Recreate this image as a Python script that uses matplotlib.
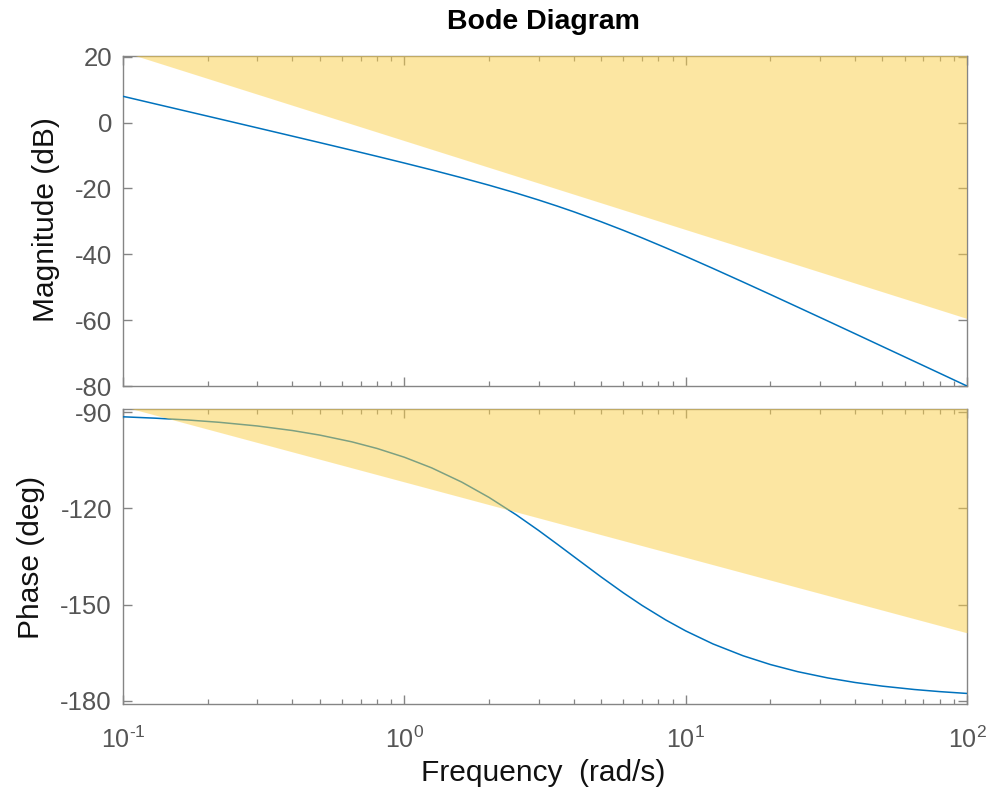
import matplotlib
matplotlib.use("Agg")
import matplotlib.pyplot as plt
import numpy as np

# ---- data ----
freq = [0.1, 0.13, 0.17, 0.22, 0.3, 0.4, 0.5, 0.65, 0.8, 1.0, 1.25, 1.6, 2.0, 2.5,
        3.0, 3.5, 4.0, 5.0, 6.0, 7.0, 8.5, 10.0, 12.5, 16.0, 20.0, 25.0, 32.0, 40.0,
        50.0, 65.0, 80.0, 100.0]
mag_db = [7.96, 5.67, 3.34, 1.10, -1.61, -4.13, -6.09, -8.41, -10.27, -12.30, -14.38,
          -16.77, -19.03, -21.43, -23.52, -25.39, -27.09, -30.11, -32.72, -35.03, -38.05,
          -40.64, -44.30, -48.43, -52.21, -56.03, -60.27, -64.12, -67.99, -72.53, -76.13,
          -80.01]
phase_deg = [-91.43, -91.86, -92.43, -93.15, -94.29, -95.71, -97.13, -99.23, -101.31,
             -104.04, -107.35, -111.80, -116.57, -122.01, -126.87, -131.19, -135.00,
             -141.34, -146.31, -150.26, -154.80, -158.20, -162.26, -165.96, -168.69,
             -170.91, -172.87, -174.29, -175.43, -176.48, -177.14, -177.71]

# constraint boundaries (shaded above)
bound_freq = [0.1, 100.0]
mag_bound = [21.4, -59.6]
phase_bound = [-88.2, -158.8]

mag_yticks = [20, 0, -20, -40, -60, -80]
phase_yticks = [-90, -120, -150, -180]
xticks = [0.1, 1, 10, 100]
xticklabels = [r"$10^{\text{-1}}$", r"$10^{0}$", r"$10^{1}$", r"$10^{2}$"]

# ---- style ----
plt.rcParams["font.family"] = ["Liberation Sans", "DejaVu Sans"]
plt.rcParams["mathtext.fontset"] = "custom"
plt.rcParams["mathtext.rm"] = "Liberation Sans"
plt.rcParams["mathtext.it"] = "Liberation Sans:italic"
plt.rcParams["mathtext.bf"] = "Liberation Sans:bold"
plt.rcParams["axes.unicode_minus"] = False

W, H = 1001, 789
fig = plt.figure(figsize=(W / 100, H / 100), dpi=100)
L, R = 123, 967
ax1 = fig.add_axes([L / W, 1 - 386 / H, (R - L) / W, (386 - 56) / H])
ax2 = fig.add_axes([L / W, 1 - 704 / H, (R - L) / W, (704 - 409) / H])

line_col = "#0072BD"
fill_col = (251 / 255, 207 / 255, 71 / 255)
spine_col = "#858585"
tick_lab_col = "#555555"

for ax in (ax1, ax2):
    ax.set_xscale("log")
    ax.set_xlim(0.1, 100)
    ax.set_axisbelow(True)
    for s in ax.spines.values():
        s.set_color(spine_col)
        s.set_linewidth(1.0)
        s.set_zorder(0.5)
    ax.tick_params(which="both", direction="in", top=True, right=True,
                   color=spine_col, labelcolor=tick_lab_col, labelsize=18.5)
    ax.tick_params(which="major", length=6.5, width=1.0)
    ax.tick_params(which="minor", length=3.8, width=0.9)
    ax.tick_params(axis="y", which="minor", left=False, right=False)
    ax.tick_params(axis="y", pad=8)

# magnitude
ax1.plot(freq, mag_db, color=line_col, lw=1.1, zorder=0.8)
ax1.fill_between(bound_freq, mag_bound, [200, 200], color=fill_col, alpha=0.5,
                 lw=0, zorder=1)
ax1.set_ylim(-80, 20.2)
ax1.set_yticks(mag_yticks)
ax1.set_xticks(xticks)
ax1.tick_params(labelbottom=False)

# phase
ax2.plot(freq, phase_deg, color=line_col, lw=1.1, zorder=0.8)
ax2.fill_between(bound_freq, phase_bound, [0, 0], color=fill_col, alpha=0.5,
                 lw=0, zorder=1)
ax2.set_ylim(-181, -89)
ax2.set_yticks(phase_yticks)
ax2.set_xticks(xticks)
ax2.set_xticklabels(xticklabels)
ax2.tick_params(axis="x", pad=16, labelsize=18)

# texts
fig.text(543 / W, 1 - 22 / H, "Bode Diagram", ha="center", va="center",
         fontsize=20.5, fontweight="bold", color="black")
fig.text(46.5 / W, 1 - 220 / H, "Magnitude (dB)", ha="center", va="center",
         rotation=90, fontsize=21.5, color="#111111")
fig.text(31 / W, 1 - 557 / H, "Phase (deg)", ha="center", va="center",
         rotation=90, fontsize=21.5, color="#111111")
fig.text(543 / W, 1 - 773 / H, "Frequency  (rad/s)", ha="center", va="center",
         fontsize=21.5, color="#111111")

fig.savefig("out.png", dpi=100)
